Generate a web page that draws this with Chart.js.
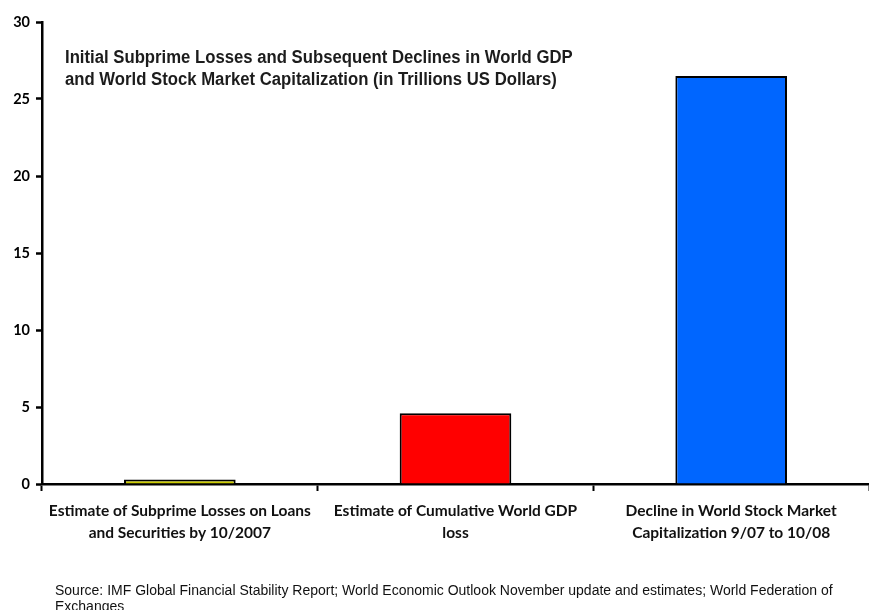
<!DOCTYPE html>
<html>
<head>
<meta charset="utf-8">
<script src="https://cdn.jsdelivr.net/npm/chart.js@4.4.1/dist/chart.umd.min.js"></script>
<style>
  html, body { margin: 0; padding: 0; background: #fff; }
  #wrap { position: relative; width: 869px; height: 610px; overflow: hidden; }
  #chart { position: absolute; left: 0; top: 0; }
  .title {
    position: absolute; left: 65px; top: 46px;
    font: bold 17.5px "Liberation Sans", Arial, sans-serif;
    line-height: 22px; color: #1c1c1c;
    transform: scaleX(0.955); transform-origin: left top;
    white-space: nowrap;
  }
  .source {
    position: absolute; left: 55px; top: 582px;
    font: 14px "Liberation Sans", Arial, sans-serif;
    line-height: 16px; color: #111;
    white-space: nowrap;
  }
</style>
</head>
<body>
<div id="wrap">
  <canvas id="chart" width="869" height="610"></canvas>
  <div class="title">Initial Subprime Losses and Subsequent Declines in World GDP<br>and World Stock Market Capitalization (in Trillions US Dollars)</div>
  <div class="source">Source: IMF Global Financial Stability Report; World Economic Outlook November update and estimates; World Federation of<br>Exchanges</div>
</div>
<script>
// Trillions of US dollars
const categories = [
    ['Estimate of Subprime Losses on Loans', 'and Securities by 10/2007'],
    ['Estimate of Cumulative World GDP', 'loss'],
    ['Decline in World Stock Market', 'Capitalization 9/07 to 10/08']
];
const losses = [0.3, 4.6, 26.5];
const barColors = ['#cccc00', '#ff0000', '#0066ff'];
const yTicks = [0, 5, 10, 15, 20, 25, 30];

const ctx = document.getElementById('chart').getContext('2d');

new Chart(ctx, {
    type: 'bar',
    data: {
        labels: categories,
        datasets: [{
            data: losses,
            backgroundColor: barColors,
            borderColor: '#000',
            borderWidth: 2,
            borderSkipped: 'bottom',
            categoryPercentage: 1,
            barPercentage: 0.405
        }]
    },
    options: {
        responsive: false,
        animation: false,
        layout: { padding: { top: 22, right: 0, bottom: 0, left: 0 } },
        plugins: {
            legend: { display: false },
            tooltip: { enabled: false }
        },
        scales: {
            y: {
                min: 0,
                max: 30,
                afterBuildTicks: axis => { axis.ticks = yTicks.map(v => ({ value: v })); },
                afterFit: axis => { axis.width = 42; },
                border: { display: true, color: '#000', width: 2.5 },
                grid: {
                    drawOnChartArea: false,
                    drawTicks: true,
                    tickLength: 6,
                    tickColor: '#000',
                    tickWidth: 2.5
                },
                ticks: {
                    padding: 6,
                    color: '#000',
                    font: { family: 'Lato, "Open Sans", sans-serif', weight: 'bold', size: 14.5 }
                }
            },
            x: {
                afterFit: axis => { axis.height = 126; },
                border: { display: true, color: '#000', width: 2.5 },
                grid: {
                    offset: true,
                    drawOnChartArea: false,
                    drawTicks: true,
                    tickLength: 7,
                    tickColor: '#000',
                    tickWidth: 2
                },
                ticks: {
                    padding: 9,
                    color: '#111',
                    maxRotation: 0,
                    autoSkip: false,
                    font: { family: 'Lato, "Open Sans", sans-serif', weight: 'bold', size: 15.5, lineHeight: 1.42 }
                }
            }
        }
    }
});
</script>
</body>
</html>
